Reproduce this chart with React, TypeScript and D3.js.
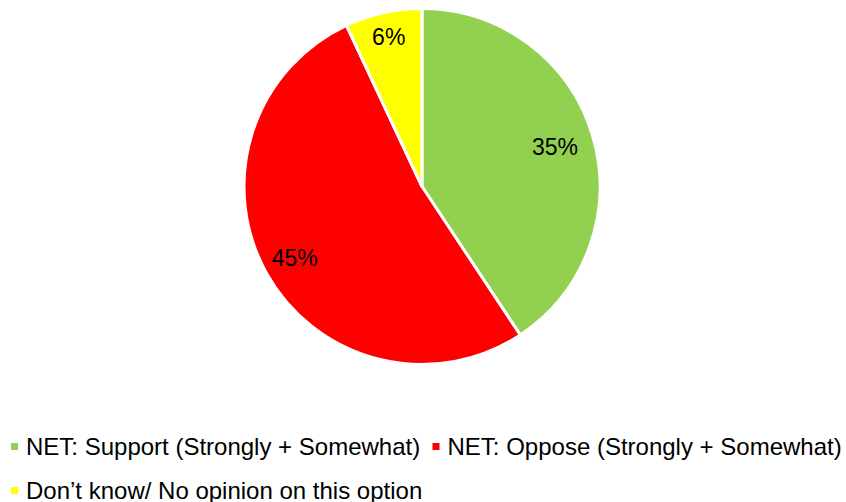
import React from "react";
import * as d3 from "d3";

const categories: string[] = [
  "NET: Support (Strongly + Somewhat)",
  "NET: Oppose (Strongly + Somewhat)",
  "Don’t know/ No opinion on this option",
];
const values: number[] = [35, 45, 6];
const valueLabels: string[] = ["35%", "45%", "6%"];
const colors: string[] = ["#92D050", "#FF0000", "#FFFF00"];

const W = 846;
const H = 502;
const CX = 422;
const CY = 186.5;
const R = 178;
const FONT = "'Liberation Sans', Arial, sans-serif";

// label distance from centre as a fraction of the radius (best-fit placement)
const labelRadii: number[] = [0.78, 0.82, 0.86];

// legend layout: [x of marker, baseline y]
const legendPos: [number, number][] = [
  [11, 455],
  [432.5, 455],
  [11, 499],
];

export default function App() {
  const pie = d3
    .pie<number>()
    .sort(null)
    .value((d) => d)
    .startAngle(0)
    .endAngle(2 * Math.PI);
  const arcs = pie(values);
  const arc = d3.arc<d3.PieArcDatum<number>>().innerRadius(0).outerRadius(R);

  return (
    <svg
      width={W}
      height={H}
      style={{ position: "absolute", left: 0, top: 0, background: "#fff" }}
      fontFamily={FONT}
    >
      <g transform={`translate(${CX},${CY})`}>
        {arcs.map((a, i) => (
          <path
            key={i}
            d={arc(a) || ""}
            fill={colors[i]}
            stroke="#fff"
            strokeWidth={3}
            strokeLinejoin="round"
          />
        ))}
        {arcs.map((a, i) => {
          const lr = R * labelRadii[i];
          const [x, y] = d3
            .arc<d3.PieArcDatum<number>>()
            .innerRadius(lr)
            .outerRadius(lr)
            .centroid(a);
          return (
            <text
              key={"l" + i}
              x={x}
              y={y}
              dy="0.35em"
              textAnchor="middle"
              fontSize={23}
              fill="#000"
            >
              {valueLabels[i]}
            </text>
          );
        })}
      </g>
      {categories.map((c, i) => {
        const [mx, by] = legendPos[i];
        return (
          <g key={"lg" + i}>
            <rect x={mx} y={by - 12} width={7} height={7} fill={colors[i]} />
            <text x={mx + 15} y={by} fontSize={24} fill="#000">
              {c}
            </text>
          </g>
        );
      })}
    </svg>
  );
}
